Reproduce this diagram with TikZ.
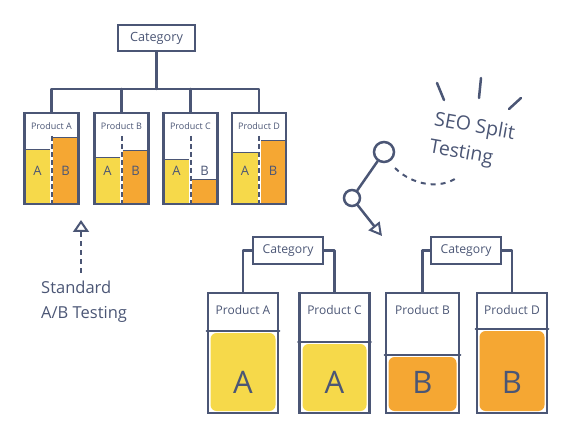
\documentclass[tikz,border=0pt]{standalone}
\usepackage{fontspec}
\setmainfont{Open Sans}
\usetikzlibrary{arrows.meta}
\definecolor{ink}{HTML}{4B5675}
\definecolor{ayel}{HTML}{F6D94A}
\definecolor{bora}{HTML}{F5A733}
\begin{document}
\begin{tikzpicture}[x=1pt,y=-1pt,
  every node/.style={text=ink, inner sep=0pt},
  ln/.style={draw=ink, line width=2.5pt, line cap=round, line join=round},
  catbox/.style={draw=ink, line width=2.5pt, rectangle, minimum width=77pt, minimum height=26pt, font=\fontsize{12.7}{14}\selectfont},
  catsmall/.style={catbox, minimum width=70pt, minimum height=27pt, font=\fontsize{12.2}{14}\selectfont},
  pbox/.style={draw=ink, line width=2.5pt, rectangle, minimum width=54pt, minimum height=91pt},
  bbox/.style={draw=ink, line width=2.5pt, rectangle, minimum width=70pt, minimum height=120pt},
  plabel/.style={font=\fontsize{9}{10}\selectfont},
  blabel/.style={font=\fontsize{12}{14}\selectfont},
  barlab/.style={font=\fontsize{13}{14}\selectfont},
  biglab/.style={font=\fontsize{31}{33}\selectfont},
  divider/.style={draw=ink, line width=2pt, dash pattern=on 5pt off 3pt},
  bartop/.style={draw=ink, line width=1pt},
  hand/.style={font=\fontsize{16.5}{25}\selectfont},
  seo/.style={font=\fontsize{19.5}{28}\selectfont},
  ring/.style={circle, draw=ink, line width=2.5pt, fill=white}
]
\useasboundingbox (0,0) rectangle (571,441);

% ---------- top hierarchy: bars (under borders) ----------
% Product A (cx=51.5)
\fill[ayel] (24.5,150) rectangle (50,204);
\fill[bora] (53,138) rectangle (78.5,204);
\draw[bartop] (24.5,150) -- (50,150);
\draw[bartop] (53,138) -- (78.5,138);
% Product B (cx=121.5)
\fill[ayel] (94.5,158) rectangle (120,204);
\fill[bora] (123,151) rectangle (148.5,204);
\draw[bartop] (94.5,158) -- (120,158);
\draw[bartop] (123,151) -- (148.5,151);
% Product C (cx=190.5)
\fill[ayel] (163.5,160) rectangle (189,204);
\fill[bora] (192,180) rectangle (217.5,204);
\draw[bartop] (163.5,160) -- (189,160);
\draw[bartop] (192,180) -- (217.5,180);
% Product D (cx=259)
\fill[ayel] (232,153) rectangle (257.5,204);
\fill[bora] (260.5,141) rectangle (286,204);
\draw[bartop] (232,153) -- (257.5,153);
\draw[bartop] (260.5,141) -- (286,141);

\node[catbox] (cat) at (156.5,38) {Category};
\node[pbox] (pA) at (51.5,158.5) {};
\node[pbox] (pB) at (121.5,158.5) {};
\node[pbox] (pC) at (190.5,158.5) {};
\node[pbox] (pD) at (259,158.5) {};
\coordinate (hub) at (156.5,89);

\draw[ln] (cat.south) -- (hub);
\draw[ln] (pA.north) |- (hub) -| (pD.north);
\draw[ln] (pB.north) -- (pB.north |- hub);
\draw[ln] (pC.north) -- (pC.north |- hub);

\foreach \p in {pA,pB,pC,pD}{
  \draw[divider] (\p.center |- 0,136) -- (\p.south);
}

\node[plabel] (lA) at (51.5,126) {Product A};
\node[plabel] (lB) at (121.5,126) {Product B};
\node[plabel] (lC) at (190.5,126) {Product C};
\node[plabel] (lD) at (259,126) {Product D};

\node[barlab] (aA) at (37.5,171) {A};
\node[barlab] (bA) at (65.5,171) {B};
\node[barlab] (aB) at (107.5,171) {A};
\node[barlab] (bB) at (135.5,171) {B};
\node[barlab] (aC) at (176.5,171) {A};
\node[barlab] (bC) at (204.5,171) {B};
\node[barlab] (aD) at (245,171) {A};
\node[barlab] (bD) at (273,171) {B};

% ---------- Standard A/B Testing ----------
\coordinate (sFrom) at (81,273);
\coordinate (sTo) at (81,220);
\draw[draw=ink, line width=2pt, dash pattern=on 5pt off 4pt, -{Triangle[open, width=16pt, length=12pt, line width=2pt, sep=0pt]}] (sFrom) -- (sTo);
\node[hand, align=left, anchor=west] (std) at (41,302) {Standard\\A/B Testing};

% ---------- SEO Split Testing ----------
\node[seo, rotate=-10, align=left] (seo) at (472,141) {SEO Split\\Testing};
\draw[ln] (437,83) -- (444,100);
\draw[ln] (481,78) -- (479,98);
\draw[ln] (521,98) -- (509,109);

\node[ring, minimum size=20pt] (c1) at (384,152) {};
\node[ring, minimum size=16pt] (c2) at (352,198) {};
\coordinate (tip) at (382,236);
\coordinate (d1) at (395,168);
\coordinate (d2) at (458,177);
\draw[ln] (c1) -- (c2);
\draw[ln, -{Triangle[open, width=14pt, length=13pt, line width=2pt]}] (c2) -- (tip);
\draw[draw=ink, line width=2pt, dash pattern=on 5pt off 5pt] (d1) .. controls (412,185) and (440,190) .. (d2);

% ---------- bottom split ----------
\fill[ayel, rounded corners=6pt] (210.5,333) rectangle (275.5,411);
\fill[ayel, rounded corners=6pt] (302.5,344) rectangle (366.5,411);
\fill[bora, rounded corners=6pt] (388.5,357) rectangle (456.5,411);
\fill[bora, rounded corners=6pt] (479.5,331) rectangle (544.5,411);

\node[catsmall] (catL) at (288,250.5) {Category};
\node[catsmall] (catR) at (466,250.5) {Category};
\node[bbox] (qA) at (243,353) {};
\node[bbox] (qC) at (334.5,353) {};
\node[bbox, minimum width=73pt] (qB) at (422.5,353) {};
\node[bbox] (qD) at (512,353) {};

\draw[ln] (catL.west) -| (qA.north);
\draw[ln] (catL.east) -| (qC.north);
\draw[ln] (catR.west) -| (qB.north);
\draw[ln] (catR.east) -| (qD.north);

\draw[ln] (qA.west |- 0,331) -- (qA.east |- 0,331);
\draw[ln] (qC.west |- 0,342) -- (qC.east |- 0,342);
\draw[ln] (qB.west |- 0,355) -- (qB.east |- 0,355);
\draw[ln] (qD.west |- 0,329) -- (qD.east |- 0,329);

\node[blabel] (tA) at (243,310) {Product A};
\node[blabel] (tC) at (334.5,310) {Product C};
\node[blabel] (tB) at (422.5,310) {Product B};
\node[blabel] (tD) at (512,310) {Product D};

\node[biglab] (gA) at (243,382) {A};
\node[biglab] (gC) at (334.5,382) {A};
\node[biglab] (gB) at (422.5,382) {B};
\node[biglab] (gD) at (512,382) {B};
\end{tikzpicture}
\end{document}
